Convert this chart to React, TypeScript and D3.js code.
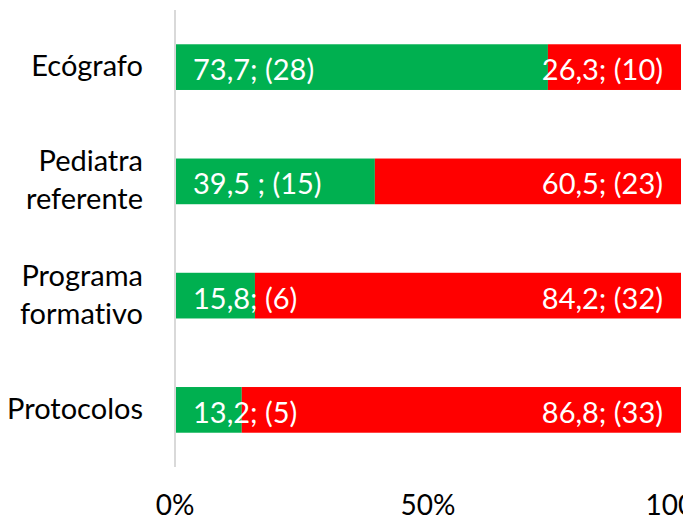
import React from 'react';
import * as d3 from 'd3';

// categories, top to bottom (line breaks as in the reference)
const categories = ['Ecógrafo', 'Pediatra\nreferente', 'Programa\nformativo', 'Protocolos'];
// percentage "yes" (green) and "no" (red)
const yesPct = [73.7, 39.5, 15.8, 13.2];
const noPct = [26.3, 60.5, 84.2, 86.8];
// data labels as printed on the bars
const yesLabels = ['73,7; (28)', '39,5 ; (15)', '15,8; (6)', '13,2; (5)'];
const noLabels = ['26,3; (10)', '60,5; (23)', '84,2; (32)', '86,8; (33)'];
const xTicks = [0, 50, 100];

const W = 683;
const H = 521;
const FONT = 'Lato, "Open Sans", sans-serif';
const GREEN = '#00B050';
const RED = '#FF0000';

const App = () => {
    const x = d3.scaleLinear().domain([0, 100]).range([175, 681]);
    const y = d3.scaleBand()
        .domain(categories)
        .range([10, 467])
        .paddingInner(0.6)
        .paddingOuter(0.3);

    const bw = y.bandwidth();

    return (
        <svg width={W} height={H} style={{ position: 'absolute', left: 0, top: 0, fontVariantLigatures: 'none' }} fontFamily={FONT}>
            <rect width={W} height={H} fill="#fff" />
            {categories.map((c, i) => {
                const y0 = y(c)!;
                const cy = y0 + bw / 2;
                const lines = c.split('\n');
                return (
                    <g key={c}>
                        <rect x={x(0)} y={y0} width={x(yesPct[i]) - x(0)} height={bw} fill={GREEN} />
                        <rect x={x(yesPct[i])} y={y0} width={x(yesPct[i] + noPct[i]) - x(yesPct[i])} height={bw} fill={RED} />
                        <text x={x(0) + 18} y={cy + 13} fill="#fff" fontSize={29}>{yesLabels[i]}</text>
                        <text x={x(yesPct[i] + noPct[i]) - 18} y={cy + 13} fill="#fff" fontSize={29} textAnchor="end">{noLabels[i]}</text>
                        {lines.map((l, j) => (
                            <text key={j} x={143} y={cy + 9 + (j - (lines.length - 1) / 2) * 38}
                                textAnchor="end" fontSize={29} fill="#000">{l}</text>
                        ))}
                    </g>
                );
            })}
            <line x1={x(0)} x2={x(0)} y1={10} y2={467} stroke="#d9d9d9" strokeWidth={2} />
            {xTicks.map(t => (
                <text key={t} x={x(t)} y={515} textAnchor="middle" fontSize={28} fill="#000">{t}%</text>
            ))}
        </svg>
    );
};

export default App;
